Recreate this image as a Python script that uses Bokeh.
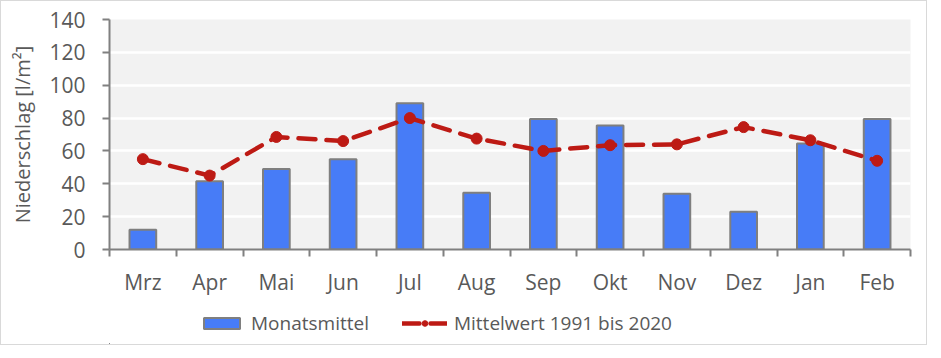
from bokeh.plotting import figure
from bokeh.layouts import column
from bokeh.models import (FixedTicker, Legend, LegendItem, ColumnDataSource, Range1d)
from bokeh.embed import file_html
from bokeh.resources import INLINE

months = ["Mrz", "Apr", "Mai", "Jun", "Jul", "Aug", "Sep", "Okt", "Nov", "Dez", "Jan", "Feb"]
monatsmittel = [12, 41.5, 49, 55, 89, 34.5, 79.5, 75.5, 34, 23, 64.5, 79.5]
mittelwert_1991_2020 = [55, 45, 68.5, 66, 80, 67.5, 60, 63.5, 64, 74.5, 66.5, 54]
y_ticks = [0, 20, 40, 60, 80, 100, 120, 140]
series_names = ["Monatsmittel", "Mittelwert 1991 bis 2020"]

FONT = "Open Sans"
TXT = "#595959"
AX = "#808080"
BAR_FILL = "#477CF7"
BAR_LINE = "#7f7f7f"
RED = "#BD1A14"

xc = [i + 0.5 for i in range(len(months))]
src = ColumnDataSource(dict(x=xc, bar=monatsmittel, line=mittelwert_1991_2020))

p = figure(output_backend="svg", toolbar_location=None,
           x_range=Range1d(0, len(months)), y_range=Range1d(0, 140),
           min_border_left=108, min_border_right=16, min_border_top=18, min_border_bottom=48)
p.frame_width = 801
p.frame_height = 230
p.background_fill_color = "#f2f2f2"
p.border_fill_color = "white"
p.outline_line_color = None

bars = p.vbar(x="x", top="bar", width=0.4, source=src, fill_color=BAR_FILL,
              line_color=BAR_LINE, line_width=2)
ln = p.line(x="x", y="line", source=src, line_color=RED, line_width=4.5,
            line_dash="17 11", line_cap="round")
pts = p.scatter(x="x", y="line", source=src, size=11, fill_color=RED, line_color=RED)

p.xgrid.grid_line_color = None
p.ygrid.grid_line_color = "white"
p.ygrid.grid_line_width = 2.5

p.yaxis.ticker = FixedTicker(ticks=y_ticks)
p.yaxis.axis_line_color = AX
p.yaxis.axis_line_width = 2
p.yaxis.major_tick_line_color = AX
p.yaxis.major_tick_line_width = 2
p.yaxis.major_tick_out = 7
p.yaxis.major_tick_in = 0
p.yaxis.minor_tick_line_color = None
p.yaxis.major_label_text_font = FONT
p.yaxis.major_label_text_font_size = "21px"
p.yaxis.major_label_text_color = TXT
p.yaxis.major_label_standoff = 17
p.yaxis.axis_label = "Niederschlag [l/m²]"
p.yaxis.axis_label_text_font = FONT
p.yaxis.axis_label_text_font_size = "20px"
p.yaxis.axis_label_text_font_style = "normal"
p.yaxis.axis_label_text_color = TXT
p.yaxis.axis_label_standoff = 10

p.xaxis.ticker = FixedTicker(ticks=xc, minor_ticks=list(range(len(months) + 1)))
p.xaxis.major_label_overrides = {x: m for x, m in zip(xc, months)}
p.xaxis.axis_line_color = AX
p.xaxis.axis_line_width = 2
p.xaxis.major_tick_line_color = None
p.xaxis.minor_tick_line_color = AX
p.xaxis.minor_tick_line_width = 2
p.xaxis.minor_tick_out = 7
p.xaxis.minor_tick_in = 0
p.xaxis.major_label_text_font = FONT
p.xaxis.major_label_text_font_size = "21px"
p.xaxis.major_label_text_color = TXT
p.xaxis.major_label_standoff = 11

# separate strip holding the legend: same glyph styles, data kept out of its view
lg = figure(width=925, height=46, output_backend="svg", toolbar_location=None,
            x_range=Range1d(1000, 1001), y_range=Range1d(1000, 1001),
            min_border=0, x_axis_location=None, y_axis_location=None)
lg.grid.visible = False
lg.outline_line_color = None
lg.background_fill_color = "white"
lb = lg.vbar(x="x", top="bar", width=0.4, source=src, fill_color=BAR_FILL,
             line_color=BAR_LINE, line_width=2)
ll = lg.line(x="x", y="line", source=src, line_color=RED, line_width=4.5,
             line_dash="17 11", line_cap="round")
lp = lg.scatter(x="x", y="line", source=src, size=11, fill_color=RED, line_color=RED)

legend = Legend(items=[LegendItem(label=series_names[0], renderers=[lb]),
                       LegendItem(label=series_names[1], renderers=[ll, lp])],
                orientation="horizontal", location=(90, 8),
                glyph_width=45, glyph_height=14, label_standoff=7, spacing=33,
                padding=4, margin=0,
                label_text_font=FONT, label_text_font_size="19px", label_text_color=TXT,
                border_line_color=None, background_fill_alpha=0)
lg.add_layout(legend, "center")

layout = column(p, lg, spacing=0)
layout.styles = {"border": "1px solid #d9d9d9"}

open("out.html", "w").write(file_html(layout, INLINE))
